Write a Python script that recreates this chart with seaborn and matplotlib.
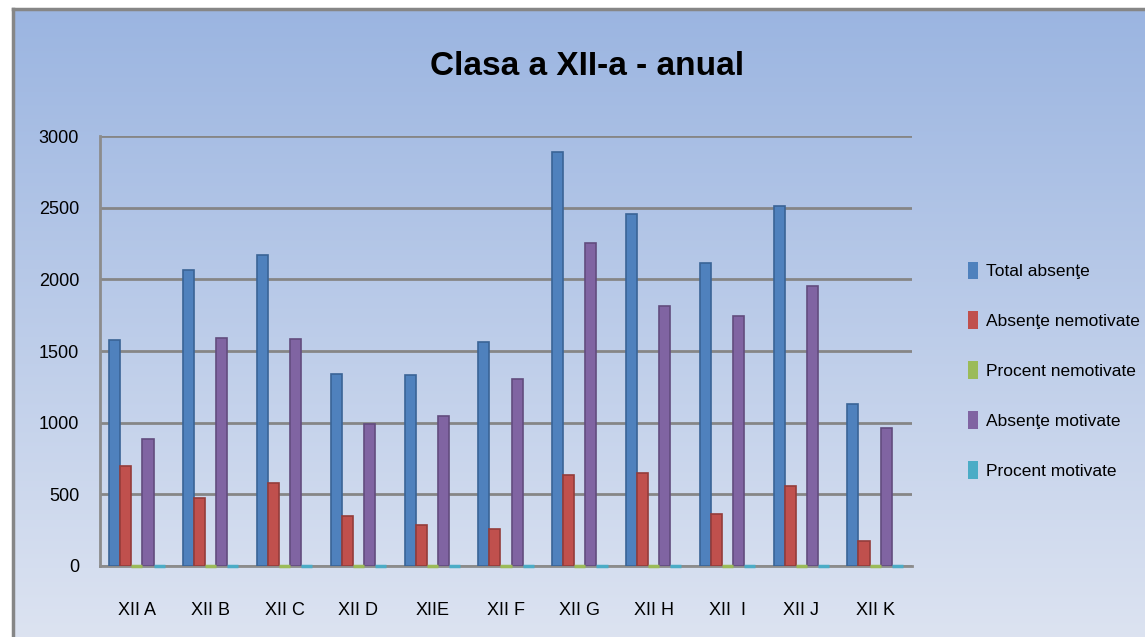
import numpy as np
import pandas as pd
import matplotlib.pyplot as plt
import seaborn as sns

# Data
clase = ["XII A", "XII B", "XII C", "XII D", "XIIE", "XII F", "XII G", "XII H", "XII  I", "XII J", "XII K"]
total_absente = [1580, 2068, 2168, 1340, 1336, 1565, 2885, 2457, 2112, 2514, 1132]
absente_nemotivate = [697, 477, 582, 351, 288, 260, 632, 646, 365, 561, 171]
procent_nemotivate = [0.44, 0.23, 0.27, 0.26, 0.22, 0.17, 0.22, 0.26, 0.17, 0.22, 0.15]
absente_motivate = [884, 1593, 1586, 989, 1048, 1305, 2253, 1811, 1747, 1953, 961]
procent_motivate = [0.56, 0.77, 0.73, 0.74, 0.78, 0.83, 0.78, 0.74, 0.83, 0.78, 0.85]

serii = ["Total absenţe", "Absenţe nemotivate", "Procent nemotivate", "Absenţe motivate", "Procent motivate"]
culori = ["#4f81bd", "#c0504d", "#9bbb59", "#8064a2", "#4bacc6"]
margini = ["#3a6496", "#943c3a", "#7a9645", "#624c7e", "#3a8ba1"]

df = pd.DataFrame({
    "clasa": np.tile(clase, 5),
    "serie": np.repeat(serii, len(clase)),
    "valoare": total_absente + absente_nemotivate + procent_nemotivate + absente_motivate + procent_motivate,
})

sns.set_theme(style="white")
plt.rcParams["font.family"] = ["Liberation Sans", "DejaVu Sans"]
plt.rcParams["text.color"] = "black"

fig = plt.figure(figsize=(11.45, 6.37), dpi=100)
fig.patch.set_facecolor("white")

# gradient background of the chart area
bg = fig.add_axes([13 / 1145, 0, 1 - 13 / 1145, 1 - 9 / 637], zorder=-5)
grad = np.linspace(0, 1, 256).reshape(-1, 1)
top = np.array([0.608, 0.710, 0.882])
bot = np.array([0.863, 0.890, 0.945])
img = top + (bot - top) * grad[:, :, None]
bg.imshow(img, aspect="auto", extent=[0, 1, 0, 1])
bg.set_xticks([])
bg.set_yticks([])
for side in ["right", "bottom"]:
    bg.spines[side].set_visible(False)
for side in ["top", "left"]:
    bg.spines[side].set_color("#868686")
    bg.spines[side].set_linewidth(2.5)

ax = fig.add_axes([100 / 1145, 71 / 637, 812 / 1145, 430 / 637])
ax.patch.set_alpha(0)

sns.barplot(data=df, x="clasa", y="valoare", hue="serie", hue_order=serii,
            palette=culori, saturation=1, width=0.75, ax=ax, zorder=3)

# outline the bars so the flat percent bars stay visible
for cont, edge in zip(ax.containers, margini):
    for bar in cont:
        bar.set_edgecolor(edge)
        bar.set_linewidth(1.2)
for cont, col in zip([ax.containers[2], ax.containers[4]], [culori[2], culori[4]]):
    for bar in cont:
        bar.set_edgecolor(col)
        bar.set_linewidth(2.5)
        bar.set_clip_on(False)
        bar.set_zorder(4)

ax.set_ylim(0, 3000)
ax.set_yticks(range(0, 3001, 500))
ax.yaxis.grid(True, color="#868686", linewidth=2, zorder=0)
ax.set_axisbelow(True)
for side in ["top", "right"]:
    ax.spines[side].set_visible(False)
for side in ["left", "bottom"]:
    ax.spines[side].set_color("#8c8c8c")
    ax.spines[side].set_linewidth(2)

ax.set_xlabel("")
ax.set_ylabel("")
ax.tick_params(axis="y", labelsize=13, pad=9, colors="black")
ax.tick_params(axis="x", labelsize=13, pad=20, colors="black")

handles, labels = ax.get_legend_handles_labels()
leg = ax.legend(handles, labels, loc="upper left", bbox_to_anchor=(952 / 1145, 0.614),
                bbox_transform=fig.transFigure, frameon=False, fontsize=12.5,
                handlelength=0.6, handleheight=1.2, handletextpad=0.45, labelspacing=1.85)
for p in leg.get_patches():
    p.set_edgecolor("none")

fig.suptitle("Clasa a XII-a - anual", x=0.513, y=0.92, fontsize=24, fontweight="bold")

fig.savefig("out.png", dpi=100)
